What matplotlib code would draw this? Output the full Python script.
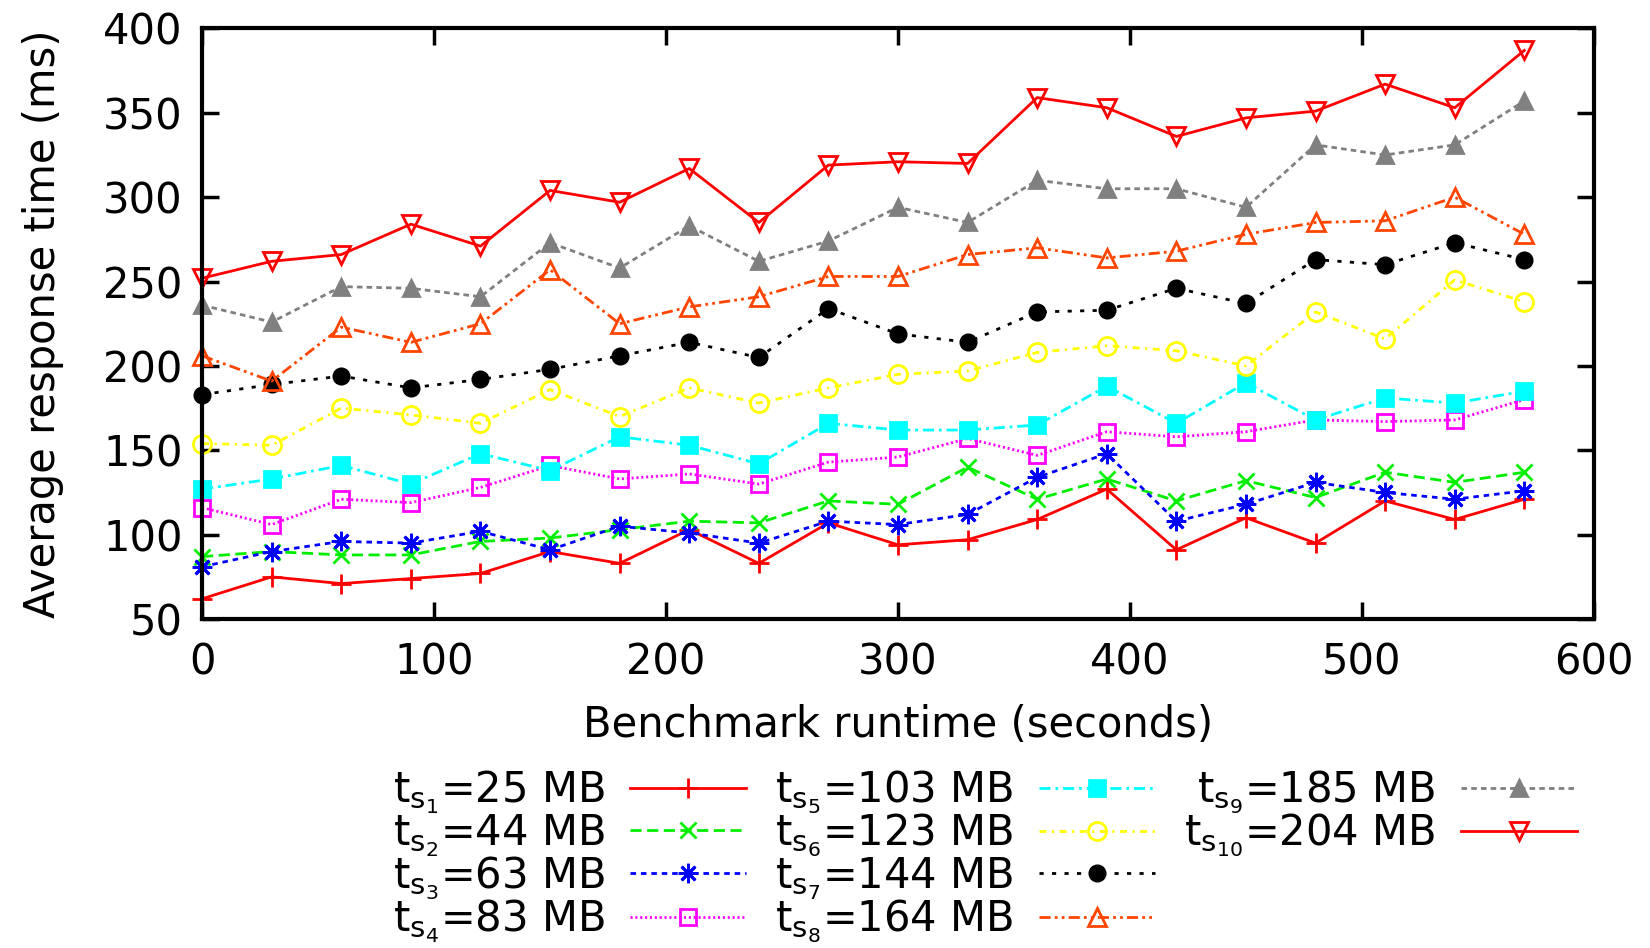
import matplotlib
matplotlib.use("Agg")
import matplotlib.pyplot as plt

plt.rcParams["font.family"] = ["DejaVu Sans"]
plt.rcParams["mathtext.default"] = "regular"
plt.rcParams["lines.scale_dashes"] = False

runtime = list(range(0, 600, 30))

ts1 = [62, 75, 71, 74, 77, 90, 83, 103, 83, 107, 94, 97, 109, 127, 91, 110, 95, 120, 109, 121]
ts2 = [87, 90, 88, 88, 96, 98, 103, 108, 107, 120, 118, 140, 121, 133, 120, 132, 122, 137, 131, 137]
ts3 = [81, 90, 96, 95, 102, 91, 105, 101, 95, 108, 106, 112, 134, 148, 108, 118, 131, 125, 121, 126]
ts4 = [116, 106, 121, 119, 128, 141, 133, 136, 130, 143, 146, 157, 147, 161, 158, 161, 168, 167, 168, 180]
ts5 = [127, 133, 141, 130, 148, 138, 158, 153, 142, 166, 162, 162, 165, 188, 166, 190, 168, 181, 178, 185]
ts6 = [154, 153, 175, 171, 166, 186, 170, 187, 178, 187, 195, 197, 208, 212, 209, 200, 232, 216, 251, 238]
ts7 = [183, 189, 194, 187, 192, 198, 206, 214, 205, 234, 219, 214, 232, 233, 246, 237, 263, 260, 273, 263]
ts8 = [206, 191, 223, 214, 225, 257, 225, 235, 241, 253, 253, 266, 270, 264, 268, 278, 285, 286, 300, 278]
ts9 = [236, 226, 247, 246, 241, 273, 258, 283, 262, 274, 294, 285, 310, 305, 305, 294, 331, 325, 331, 357]
ts10 = [252, 262, 266, 284, 271, 304, 297, 317, 285, 319, 321, 320, 359, 353, 336, 347, 351, 367, 353, 387]

series = [ts1, ts2, ts3, ts4, ts5, ts6, ts7, ts8, ts9, ts10]
labels = [
    r"$t_{s_{1}}$=25 MB", r"$t_{s_{2}}$=44 MB", r"$t_{s_{3}}$=63 MB", r"$t_{s_{4}}$=83 MB",
    r"$t_{s_{5}}$=103 MB", r"$t_{s_{6}}$=123 MB", r"$t_{s_{7}}$=144 MB", r"$t_{s_{8}}$=164 MB",
    r"$t_{s_{9}}$=185 MB", r"$t_{s_{10}}$=204 MB",
]

# gnuplot-ish styles: colour, marker, filled, dash pattern (points), marker size
styles = [
    ("#ff0000", "+", True, "-", 14),
    ("#00ee00", "x", True, (0, (8, 4)), 12),
    ("#0000ff", (8, 2, 0), True, (0, (4, 3.5)), 14),
    ("#ff00ff", "s", False, (0, (1.5, 2)), 12),
    ("#00ffff", "s", True, (0, (8, 3.5, 2, 3.5)), 12),
    ("#ffff00", "o", False, (0, (5, 4, 1.5, 4)), 13),
    ("#000000", "o", True, (0, (3, 6)), 11),
    ("#ff4500", "^", False, (0, (8, 3, 2, 3, 2, 3)), 13),
    ("#808080", "^", True, (0, (4, 3)), 12),
    ("#ff0000", "v", False, "-", 13),
]

fig = plt.figure(figsize=(16.5, 9.48), dpi=100)
ax = fig.add_axes([0.1225, 0.347, 0.8435, 0.623])

for vals, lab, (col, mk, filled, ls, ms) in zip(series, labels, styles):
    ax.plot(runtime, vals, color=col, linestyle=ls, linewidth=2.0,
            marker=mk, markersize=ms, markeredgewidth=2.0,
            markerfacecolor=col if filled else "none", markeredgecolor=col,
            label=lab, clip_on=False)

ax.set_xlim(0, 600)
ax.set_ylim(50, 400)
ax.set_xticks(range(0, 601, 100))
ax.set_yticks(range(50, 401, 50))
ax.tick_params(direction="in", top=True, right=True, length=12, width=2.5,
               labelsize=30)
ax.tick_params(axis="x", pad=16)
ax.tick_params(axis="y", pad=14)
for sp in ax.spines.values():
    sp.set_linewidth(3)

ax.set_xlabel("Benchmark runtime (seconds)", fontsize=30, labelpad=15)
ax.set_ylabel("Average response time (ms)", fontsize=30, labelpad=28)

handles, labs = ax.get_legend_handles_labels()
blank = plt.Line2D([], [], linestyle="none")
handles += [blank, blank]
labs += ["", ""]
fig.legend(handles, labs, loc="upper center", bbox_to_anchor=(0.597, 0.207),
           ncol=3, markerfirst=False, frameon=False, fontsize=30,
           handlelength=2.8, handletextpad=0.6, columnspacing=0.7,
           labelspacing=-0.1, borderaxespad=0)

fig.savefig("out.png", dpi=100)
